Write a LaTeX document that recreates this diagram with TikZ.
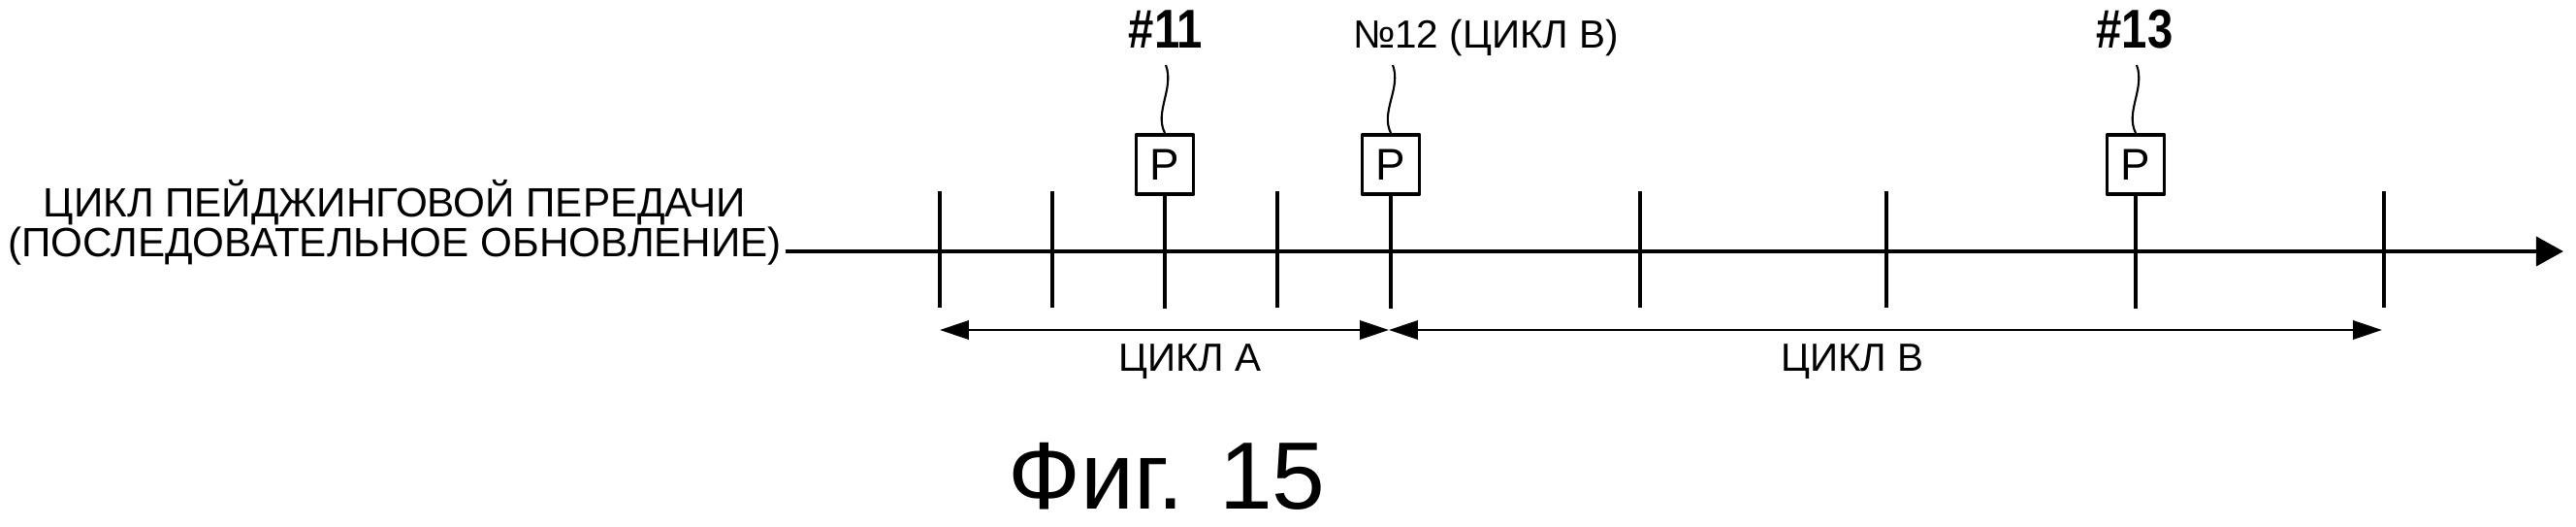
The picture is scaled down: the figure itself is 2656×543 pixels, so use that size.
\documentclass[tikz,border=0pt]{standalone}
\usepackage{fontspec}
\setmainfont{Liberation Sans}
\usetikzlibrary{arrows.meta}

\tikzset{
  axis/.style={line width=1.25pt,-{Triangle[length=8pt,width=8.5pt]}},
  tick/.style={line width=0.95pt},
  pbox/.style={draw,line width=1.1pt,fill=white,minimum width=0.59cm,minimum height=0.61cm,inner sep=0pt,font=\fontsize{13}{13}\selectfont},
  lead/.style={line width=0.6pt},
  dim/.style={line width=0.75pt,{Triangle[length=8.5pt,width=5.5pt]}-{Triangle[length=8.5pt,width=5.5pt]}},
  txt/.style={font=\fontsize{11.5}{11.5}\selectfont},
  num/.style={font=\fontsize{16}{16}\selectfont\bfseries,xscale=0.84}
}

\begin{document}
\begin{tikzpicture}[x=0.01cm,y=-0.01cm,join=round] % paging cycle
  \useasboundingbox (0,0) rectangle (2656,543);
  \node[font=\fontsize{12}{11.7}\selectfont,align=center,inner sep=1pt] (lab) at (407,229) {ЦИКЛ ПЕЙДЖИНГОВОЙ ПЕРЕДАЧИ\\(ПОСЛЕДОВАТЕЛЬНОЕ ОБНОВЛЕНИЕ)};
  \coordinate (end) at (2643,259);
  \draw[axis] (lab.east |- end) -- (end);
  \foreach \x in {969,1085,1317,1691,1945,2458}
    \draw[tick] (\x,197) -- (\x,317);
  % P blocks
  \node[pbox] (p11) at (1201,169.5) {P};
  \node[pbox] (p12) at (1434,169.5) {P};
  \node[pbox] (p13) at (2202,169.5) {P};
  \draw[tick] (p11.south) -- ++(0,116);
  \draw[tick] (p12.south) -- ++(0,116);
  \draw[tick] (p13.south) -- ++(0,116);
  \node[num,anchor=base] (l11) at (1202,50) {\#11};
  \node[txt,anchor=base] (l12) at (1532,50) {№12 (ЦИКЛ В)};
  \node[num,anchor=base] (l13) at (2201,50) {\#13};
  \coordinate (t11) at (1202,67);
  \coordinate (t12) at (1436,67);
  \coordinate (t13) at (2203,67);
  \draw[lead] (p11.north) .. controls +(-11,-22) and +(9,24) .. (t11);
  \draw[lead] (p12.north) .. controls +(-11,-22) and +(9,24) .. (t12);
  \draw[lead] (p13.north) .. controls +(-11,-22) and +(9,24) .. (t13);
  % cycles
  \coordinate (a0) at (969,340);
  \coordinate (a1) at (1432,340);
  \coordinate (b1) at (2456,340);
  \draw[dim] (a0) -- (a1);
  \draw[dim] (a1) -- (b1);
  \node[txt,anchor=base] (ca) at (1227,383) {ЦИКЛ А};
  \node[txt,anchor=base] (cb) at (1910,383) {ЦИКЛ В};
  \node[font=\fontsize{28}{28}\selectfont] (fig) at (1203,491) {Фиг. 15};
\end{tikzpicture}
\end{document}
